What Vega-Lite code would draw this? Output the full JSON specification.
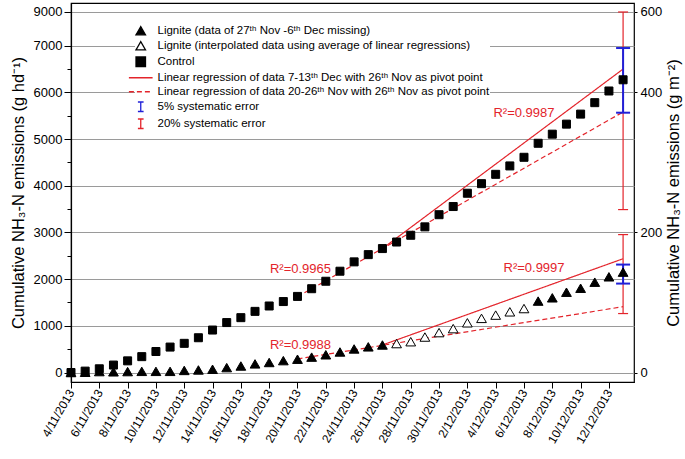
{
  "$schema": "https://vega.github.io/schema/vega-lite/v6.json",
  "width": 563,
  "height": 379,
  "autosize": "none",
  "padding": {"left": 71, "top": 3, "right": 51, "bottom": 77},
  "background": "white",
  "config": {
    "font": "Liberation Sans",
    "view": {"stroke": "black", "strokeWidth": 1.2},
    "axis": {"domainColor": "black", "domainWidth": 1.2, "tickColor": "black", "labelColor": "black", "titleColor": "black", "labelFont": "Liberation Sans", "titleFont": "Liberation Sans", "titleFontWeight": "normal"},
    "legend": {"orient": "none", "legendX": 64, "legendY": 22, "fillColor": "white", "labelFont": "Liberation Sans", "labelFontSize": 11.5, "labelColor": "black", "labelLimit": 600, "symbolSize": 90, "symbolStrokeWidth": 1.3, "rowPadding": 1, "labelOffset": 11, "padding": 0}
  },
  "datasets": {
    "control": [
      {"date": "2013-11-04", "value": 0, "series": "Control"},
      {"date": "2013-11-05", "value": 30, "series": "Control"},
      {"date": "2013-11-06", "value": 80, "series": "Control"},
      {"date": "2013-11-07", "value": 160, "series": "Control"},
      {"date": "2013-11-08", "value": 250, "series": "Control"},
      {"date": "2013-11-09", "value": 340, "series": "Control"},
      {"date": "2013-11-10", "value": 450, "series": "Control"},
      {"date": "2013-11-11", "value": 545, "series": "Control"},
      {"date": "2013-11-12", "value": 625, "series": "Control"},
      {"date": "2013-11-13", "value": 745, "series": "Control"},
      {"date": "2013-11-14", "value": 910, "series": "Control"},
      {"date": "2013-11-15", "value": 1070, "series": "Control"},
      {"date": "2013-11-16", "value": 1175, "series": "Control"},
      {"date": "2013-11-17", "value": 1310, "series": "Control"},
      {"date": "2013-11-18", "value": 1425, "series": "Control"},
      {"date": "2013-11-19", "value": 1520, "series": "Control"},
      {"date": "2013-11-20", "value": 1630, "series": "Control"},
      {"date": "2013-11-21", "value": 1795, "series": "Control"},
      {"date": "2013-11-22", "value": 1955, "series": "Control"},
      {"date": "2013-11-23", "value": 2170, "series": "Control"},
      {"date": "2013-11-24", "value": 2370, "series": "Control"},
      {"date": "2013-11-25", "value": 2525, "series": "Control"},
      {"date": "2013-11-26", "value": 2655, "series": "Control"},
      {"date": "2013-11-27", "value": 2795, "series": "Control"},
      {"date": "2013-11-28", "value": 2940, "series": "Control"},
      {"date": "2013-11-29", "value": 3120, "series": "Control"},
      {"date": "2013-11-30", "value": 3380, "series": "Control"},
      {"date": "2013-12-01", "value": 3555, "series": "Control"},
      {"date": "2013-12-02", "value": 3840, "series": "Control"},
      {"date": "2013-12-03", "value": 4045, "series": "Control"},
      {"date": "2013-12-04", "value": 4245, "series": "Control"},
      {"date": "2013-12-05", "value": 4425, "series": "Control"},
      {"date": "2013-12-06", "value": 4610, "series": "Control"},
      {"date": "2013-12-07", "value": 4910, "series": "Control"},
      {"date": "2013-12-08", "value": 5105, "series": "Control"},
      {"date": "2013-12-09", "value": 5320, "series": "Control"},
      {"date": "2013-12-10", "value": 5535, "series": "Control"},
      {"date": "2013-12-11", "value": 5780, "series": "Control"},
      {"date": "2013-12-12", "value": 6030, "series": "Control"},
      {"date": "2013-12-13", "value": 6270, "series": "Control"}
    ],
    "lignite": [
      {"date": "2013-11-04", "value": 0, "series": "Lignite (data of 27ᵗʰ Nov -6ᵗʰ Dec missing)"},
      {"date": "2013-11-05", "value": 5, "series": "Lignite (data of 27ᵗʰ Nov -6ᵗʰ Dec missing)"},
      {"date": "2013-11-06", "value": 20, "series": "Lignite (data of 27ᵗʰ Nov -6ᵗʰ Dec missing)"},
      {"date": "2013-11-07", "value": 15, "series": "Lignite (data of 27ᵗʰ Nov -6ᵗʰ Dec missing)"},
      {"date": "2013-11-08", "value": 20, "series": "Lignite (data of 27ᵗʰ Nov -6ᵗʰ Dec missing)"},
      {"date": "2013-11-09", "value": 25, "series": "Lignite (data of 27ᵗʰ Nov -6ᵗʰ Dec missing)"},
      {"date": "2013-11-10", "value": 25, "series": "Lignite (data of 27ᵗʰ Nov -6ᵗʰ Dec missing)"},
      {"date": "2013-11-11", "value": 25, "series": "Lignite (data of 27ᵗʰ Nov -6ᵗʰ Dec missing)"},
      {"date": "2013-11-12", "value": 45, "series": "Lignite (data of 27ᵗʰ Nov -6ᵗʰ Dec missing)"},
      {"date": "2013-11-13", "value": 55, "series": "Lignite (data of 27ᵗʰ Nov -6ᵗʰ Dec missing)"},
      {"date": "2013-11-14", "value": 70, "series": "Lignite (data of 27ᵗʰ Nov -6ᵗʰ Dec missing)"},
      {"date": "2013-11-15", "value": 105, "series": "Lignite (data of 27ᵗʰ Nov -6ᵗʰ Dec missing)"},
      {"date": "2013-11-16", "value": 140, "series": "Lignite (data of 27ᵗʰ Nov -6ᵗʰ Dec missing)"},
      {"date": "2013-11-17", "value": 185, "series": "Lignite (data of 27ᵗʰ Nov -6ᵗʰ Dec missing)"},
      {"date": "2013-11-18", "value": 215, "series": "Lignite (data of 27ᵗʰ Nov -6ᵗʰ Dec missing)"},
      {"date": "2013-11-19", "value": 255, "series": "Lignite (data of 27ᵗʰ Nov -6ᵗʰ Dec missing)"},
      {"date": "2013-11-20", "value": 285, "series": "Lignite (data of 27ᵗʰ Nov -6ᵗʰ Dec missing)"},
      {"date": "2013-11-21", "value": 330, "series": "Lignite (data of 27ᵗʰ Nov -6ᵗʰ Dec missing)"},
      {"date": "2013-11-22", "value": 380, "series": "Lignite (data of 27ᵗʰ Nov -6ᵗʰ Dec missing)"},
      {"date": "2013-11-23", "value": 440, "series": "Lignite (data of 27ᵗʰ Nov -6ᵗʰ Dec missing)"},
      {"date": "2013-11-24", "value": 505, "series": "Lignite (data of 27ᵗʰ Nov -6ᵗʰ Dec missing)"},
      {"date": "2013-11-25", "value": 550, "series": "Lignite (data of 27ᵗʰ Nov -6ᵗʰ Dec missing)"},
      {"date": "2013-11-26", "value": 590, "series": "Lignite (data of 27ᵗʰ Nov -6ᵗʰ Dec missing)"},
      {"date": "2013-11-27", "value": 620, "series": "Lignite (interpolated data using average of linear regressions)"},
      {"date": "2013-11-28", "value": 660, "series": "Lignite (interpolated data using average of linear regressions)"},
      {"date": "2013-11-29", "value": 760, "series": "Lignite (interpolated data using average of linear regressions)"},
      {"date": "2013-11-30", "value": 855, "series": "Lignite (interpolated data using average of linear regressions)"},
      {"date": "2013-12-01", "value": 940, "series": "Lignite (interpolated data using average of linear regressions)"},
      {"date": "2013-12-02", "value": 1065, "series": "Lignite (interpolated data using average of linear regressions)"},
      {"date": "2013-12-03", "value": 1160, "series": "Lignite (interpolated data using average of linear regressions)"},
      {"date": "2013-12-04", "value": 1230, "series": "Lignite (interpolated data using average of linear regressions)"},
      {"date": "2013-12-05", "value": 1300, "series": "Lignite (interpolated data using average of linear regressions)"},
      {"date": "2013-12-06", "value": 1370, "series": "Lignite (interpolated data using average of linear regressions)"},
      {"date": "2013-12-07", "value": 1530, "series": "Lignite (data of 27ᵗʰ Nov -6ᵗʰ Dec missing)"},
      {"date": "2013-12-08", "value": 1600, "series": "Lignite (data of 27ᵗʰ Nov -6ᵗʰ Dec missing)"},
      {"date": "2013-12-09", "value": 1720, "series": "Lignite (data of 27ᵗʰ Nov -6ᵗʰ Dec missing)"},
      {"date": "2013-12-10", "value": 1805, "series": "Lignite (data of 27ᵗʰ Nov -6ᵗʰ Dec missing)"},
      {"date": "2013-12-11", "value": 1935, "series": "Lignite (data of 27ᵗʰ Nov -6ᵗʰ Dec missing)"},
      {"date": "2013-12-12", "value": 2050, "series": "Lignite (data of 27ᵗʰ Nov -6ᵗʰ Dec missing)"},
      {"date": "2013-12-13", "value": 2150, "series": "Lignite (data of 27ᵗʰ Nov -6ᵗʰ Dec missing)"}
    ],
    "lines": [
      {"date": "2013-11-26", "value": 2655, "line": "c1", "series": "Linear regression of data 7-13ᵗʰ Dec with 26ᵗʰ Nov as pivot point"},
      {"date": "2013-12-13", "value": 6500, "line": "c1", "series": "Linear regression of data 7-13ᵗʰ Dec with 26ᵗʰ Nov as pivot point"},
      {"date": "2013-11-20", "value": 1623, "line": "c2", "series": "Linear regression of data 20-26ᵗʰ Nov with 26ᵗʰ Nov as pivot point"},
      {"date": "2013-12-13", "value": 5580, "line": "c2", "series": "Linear regression of data 20-26ᵗʰ Nov with 26ᵗʰ Nov as pivot point"},
      {"date": "2013-11-26", "value": 590, "line": "l1", "series": "Linear regression of data 7-13ᵗʰ Dec with 26ᵗʰ Nov as pivot point"},
      {"date": "2013-12-13", "value": 2437, "line": "l1", "series": "Linear regression of data 7-13ᵗʰ Dec with 26ᵗʰ Nov as pivot point"},
      {"date": "2013-11-20", "value": 290, "line": "l2", "series": "Linear regression of data 20-26ᵗʰ Nov with 26ᵗʰ Nov as pivot point"},
      {"date": "2013-12-13", "value": 1410, "line": "l2", "series": "Linear regression of data 20-26ᵗʰ Nov with 26ᵗʰ Nov as pivot point"}
    ],
    "errors": [
      {"date": "2013-12-13", "series": "20% systematic error", "value": 3490, "hi": 9000},
      {"date": "2013-12-13", "series": "20% systematic error", "value": 1263, "hi": 2954},
      {"date": "2013-12-13", "series": "5% systematic error", "value": 5565, "hi": 6950},
      {"date": "2013-12-13", "series": "5% systematic error", "value": 1905, "hi": 2312}
    ],
    "labels": [
      {"date": "2013-12-06T00:00:00Z", "value": 5565, "text": "R²=0.9987"},
      {"date": "2013-11-20T05:00:00Z", "value": 2210, "text": "R²=0.9965"},
      {"date": "2013-11-20T05:00:00Z", "value": 589, "text": "R²=0.9988"},
      {"date": "2013-12-06T17:00:00Z", "value": 2231, "text": "R²=0.9997"}
    ]
  },
  "resolve": {"scale": {"y": "independent"}},
  "layer": [
    {
      "encoding": {
        "x": {"field": "date", "type": "temporal",
              "scale": {"type": "utc", "nice": false, "domain": [{"year": 2013, "month": 11, "date": 4, "utc": true}, {"year": 2013, "month": 12, "date": 13, "hours": 18, "minutes": 30, "utc": true}]},
              "axis": {"orient": "bottom", "title": null, "grid": false, "format": "%-d/%-m/%Y", "labelAngle": -60, "labelFontSize": 12, "labelOverlap": false, "tickSize": 6, "labelPadding": 2,
                       "values": [{"year": 2013, "month": 11, "date": 4, "utc": true}, {"year": 2013, "month": 11, "date": 6, "utc": true}, {"year": 2013, "month": 11, "date": 8, "utc": true}, {"year": 2013, "month": 11, "date": 10, "utc": true}, {"year": 2013, "month": 11, "date": 12, "utc": true}, {"year": 2013, "month": 11, "date": 14, "utc": true}, {"year": 2013, "month": 11, "date": 16, "utc": true}, {"year": 2013, "month": 11, "date": 18, "utc": true}, {"year": 2013, "month": 11, "date": 20, "utc": true}, {"year": 2013, "month": 11, "date": 22, "utc": true}, {"year": 2013, "month": 11, "date": 24, "utc": true}, {"year": 2013, "month": 11, "date": 26, "utc": true}, {"year": 2013, "month": 11, "date": 28, "utc": true}, {"year": 2013, "month": 11, "date": 30, "utc": true}, {"year": 2013, "month": 12, "date": 2, "utc": true}, {"year": 2013, "month": 12, "date": 4, "utc": true}, {"year": 2013, "month": 12, "date": 6, "utc": true}, {"year": 2013, "month": 12, "date": 8, "utc": true}, {"year": 2013, "month": 12, "date": 10, "utc": true}, {"year": 2013, "month": 12, "date": 12, "utc": true}]}},
        "y": {"field": "value", "type": "quantitative",
              "scale": {"domain": [-203, 7000, 9534], "range": [379, 42.7, 0], "nice": false, "zero": false},
              "axis": {"orient": "left", "title": "Cumulative NH₃-N emissions (g hd⁻¹)", "titleFontSize": 16.5, "titlePadding": 7, "labelFontSize": 13, "labelPadding": 2, "format": "d",
                       "values": [0, 500, 1000, 1500, 2000, 2500, 3000, 3500, 4000, 4500, 5000, 5500, 6000, 6500, 7000, 9000],
                       "labelExpr": "datum.value % 1000 === 0 ? datum.label : ''",
                       "tickSize": {"condition": {"test": "datum.value % 1000 !== 0", "value": 4}, "value": 7},
                       "grid": true, "gridColor": "#9a9a9a", "gridWidth": 1,
                       "gridOpacity": {"condition": {"test": "datum.value % 1000 !== 0", "value": 0}, "value": 1}}}
      },
      "layer": [
        {
          "data": {"values": []},
          "mark": {"type": "point", "filled": true, "opacity": 1},
          "encoding": {
            "shape": {"field": "series", "type": "nominal", "legend": {"title": null},
                      "scale": {"domain": ["Lignite (data of 27ᵗʰ Nov -6ᵗʰ Dec missing)", "Lignite (interpolated data using average of linear regressions)", "Control", "Linear regression of data 7-13ᵗʰ Dec with 26ᵗʰ Nov as pivot point", "Linear regression of data 20-26ᵗʰ Nov with 26ᵗʰ Nov as pivot point", "5% systematic error", "20% systematic error"],
                                "range": ["triangle-up", "triangle-up", "square", "M-2.5,0L2.5,0", "M-2.5,0L2.5,0", "M0,-1L0,1M-0.6,-1L0.6,-1M-0.6,1L0.6,1", "M0,-1L0,1M-0.6,-1L0.6,-1M-0.6,1L0.6,1"]}},
            "fill": {"field": "series", "type": "nominal", "legend": {"title": null},
                     "scale": {"domain": ["Lignite (data of 27ᵗʰ Nov -6ᵗʰ Dec missing)", "Lignite (interpolated data using average of linear regressions)", "Control", "Linear regression of data 7-13ᵗʰ Dec with 26ᵗʰ Nov as pivot point", "Linear regression of data 20-26ᵗʰ Nov with 26ᵗʰ Nov as pivot point", "5% systematic error", "20% systematic error"],
                               "range": ["black", "white", "black", "transparent", "transparent", "transparent", "transparent"]}},
            "stroke": {"field": "series", "type": "nominal", "legend": {"title": null},
                       "scale": {"domain": ["Lignite (data of 27ᵗʰ Nov -6ᵗʰ Dec missing)", "Lignite (interpolated data using average of linear regressions)", "Control", "Linear regression of data 7-13ᵗʰ Dec with 26ᵗʰ Nov as pivot point", "Linear regression of data 20-26ᵗʰ Nov with 26ᵗʰ Nov as pivot point", "5% systematic error", "20% systematic error"],
                                 "range": ["black", "black", "black", "#e3242b", "#e3242b", "#2020d8", "#e3242b"]}},
            "strokeDash": {"field": "series", "type": "nominal", "legend": {"title": null},
                           "scale": {"domain": ["Lignite (data of 27ᵗʰ Nov -6ᵗʰ Dec missing)", "Lignite (interpolated data using average of linear regressions)", "Control", "Linear regression of data 7-13ᵗʰ Dec with 26ᵗʰ Nov as pivot point", "Linear regression of data 20-26ᵗʰ Nov with 26ᵗʰ Nov as pivot point", "5% systematic error", "20% systematic error"],
                                     "range": [[1, 0], [1, 0], [1, 0], [1, 0], [5, 3], [1, 0], [1, 0]]}}
          }
        },
        {
          "data": {"name": "lines"},
          "mark": {"type": "line", "strokeWidth": 1.2},
          "encoding": {
            "detail": {"field": "line"},
            "stroke": {"field": "series", "type": "nominal", "legend": null},
            "strokeDash": {"field": "series", "type": "nominal", "legend": null}
          }
        },
        {
          "data": {"name": "errors"},
          "transform": [{"filter": "datum.series === '20% systematic error'"}],
          "mark": {"type": "rule", "color": "#e3242b", "strokeWidth": 1.2},
          "encoding": {"y2": {"field": "hi"}}
        },
        {
          "data": {"name": "errors"},
          "transform": [{"filter": "datum.series === '20% systematic error'"}, {"fold": ["value", "hi"], "as": ["end", "value"]}],
          "mark": {"type": "tick", "orient": "horizontal", "color": "#e3242b", "size": 10, "thickness": 1.2, "opacity": 1},
          "encoding": {}
        },
        {
          "data": {"name": "errors"},
          "transform": [{"filter": "datum.series === '5% systematic error'"}],
          "mark": {"type": "rule", "color": "#2020d8", "strokeWidth": 2},
          "encoding": {"y2": {"field": "hi"}}
        },
        {
          "data": {"name": "errors"},
          "transform": [{"filter": "datum.series === '5% systematic error'"}, {"fold": ["value", "hi"], "as": ["end", "value"]}],
          "mark": {"type": "tick", "orient": "horizontal", "color": "#2020d8", "size": 14, "thickness": 2, "opacity": 1},
          "encoding": {}
        },
        {
          "data": {"name": "control"},
          "mark": {"type": "point", "filled": true, "opacity": 1, "size": 64, "strokeWidth": 1},
          "encoding": {
            "shape": {"field": "series", "type": "nominal", "legend": null},
            "fill": {"field": "series", "type": "nominal", "legend": null},
            "stroke": {"field": "series", "type": "nominal", "legend": null}
          }
        },
        {
          "data": {"name": "lignite"},
          "mark": {"type": "point", "filled": true, "opacity": 1, "size": 95, "strokeWidth": 1},
          "encoding": {
            "shape": {"field": "series", "type": "nominal", "legend": null},
            "fill": {"field": "series", "type": "nominal", "legend": null},
            "stroke": {"field": "series", "type": "nominal", "legend": null}
          }
        },
        {
          "data": {"name": "labels"},
          "mark": {"type": "text", "color": "#e3242b", "fontSize": 13, "font": "Liberation Sans", "align": "center", "baseline": "middle"},
          "encoding": {"text": {"field": "text"}}
        },
        {
          "data": {"values": [{}]},
          "mark": {"type": "point", "shape": "M-1,0L1,-1.6M-1,1L1,-0.6", "size": 100, "filled": false, "color": "black", "strokeWidth": 1.2, "opacity": 1},
          "encoding": {
            "x": {"datum": {"year": 2013, "month": 11, "date": 4, "utc": true}, "type": "temporal"},
            "y": {"datum": 8000, "type": "quantitative"}
          }
        },
        {
          "data": {"values": [{}]},
          "mark": {"type": "point", "shape": "M-1,0L1,-1.6M-1,1L1,-0.6", "size": 100, "filled": false, "color": "black", "strokeWidth": 1.2, "opacity": 1},
          "encoding": {
            "x": {"datum": {"year": 2013, "month": 12, "date": 13, "hours": 18, "minutes": 30, "utc": true}, "type": "temporal"},
            "y": {"datum": 7900, "type": "quantitative"}
          }
        }
      ]
    },
    {
      "data": {"values": []},
      "mark": {"type": "point", "opacity": 0},
      "encoding": {
        "y": {"field": "v", "type": "quantitative",
              "scale": {"domain": [-13.53, 466.67, 635.6], "range": [379, 42.7, 0], "nice": false, "zero": false},
              "axis": {"orient": "right", "values": [0, 200, 400, 600], "format": "d", "tickSize": 3, "labelPadding": 3, "labelFontSize": 13, "domain": false, "grid": false,
                       "title": "Cumulative NH₃-N emissions (g m⁻²)", "titleAngle": 270, "titleBaseline": "top", "titleFontSize": 16.5, "titlePadding": 4}}
      }
    }
  ]
}
